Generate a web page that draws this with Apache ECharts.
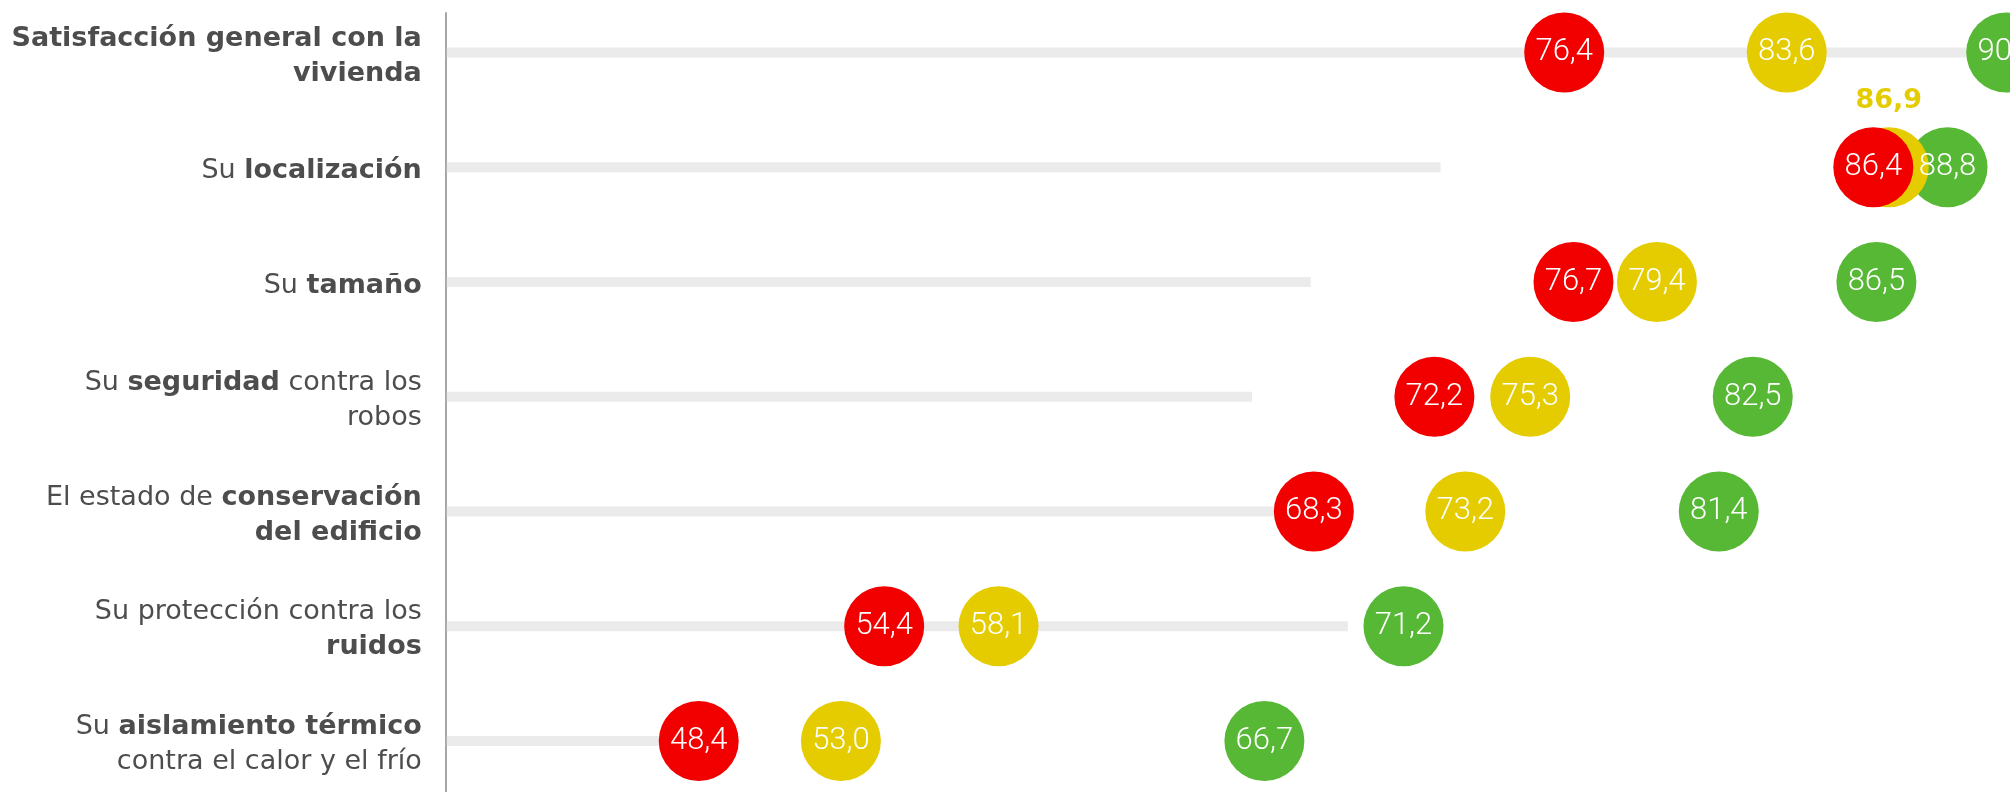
<!DOCTYPE html>
<html>
<head>
<meta charset="utf-8">
<script src="https://cdn.jsdelivr.net/npm/echarts@6/dist/echarts.min.js"></script>
<style>
html,body{margin:0;padding:0;background:#fff;}
#chart{width:2010px;height:792px;}
</style>
</head>
<body>
<div id="chart"></div>
<script>
// Categories (top to bottom); {b|...} marks the bold parts of each label
const categories = [
  "{b|Satisfacción general con la}\n{b|vivienda}",
  "Su {b|localización}",
  "Su {b|tamaño}",
  "Su {b|seguridad} contra los\nrobos",
  "El estado de {b|conservación}\n{b|del edificio}",
  "Su protección contra los\n{b|ruidos}",
  "Su {b|aislamiento térmico}\ncontra el calor y el frío"
];

// Series values
const redValues    = [76.4, 86.4, 76.7, 72.2, 68.3, 54.4, 48.4];
const yellowValues = [83.6, 86.9, 79.4, 75.3, 73.2, 58.1, 53.0];
const greenValues  = [90.7, 88.8, 86.5, 82.5, 81.4, 71.2, 66.7];

// Light grey background bars (end values)
const trackValues  = [100, 72.4, 68.2, 66.3, 68.3, 69.4, 48.4];

// Index of the yellow point whose label is shown above the circle (hidden by overlap)
const yellowLabelAbove = [1];

const RED = 'rgb(242,0,0)';
const YELLOW = 'rgb(229,204,0)';
const GREEN = 'rgb(86,184,52)';
const LABEL_FONT = 'DejaVu Sans';

const fmt = v => v.toFixed(1).replace('.', ',');

function pointData(values, aboveIdx) {
  return values.map((v, i) => {
    const item = { value: [v, i] };
    if (aboveIdx && aboveIdx.indexOf(i) >= 0) {
      item.label = {
        position: 'top', distance: 13, color: YELLOW,
        fontWeight: 'bold', fontSize: 27, fontFamily: LABEL_FONT
      };
    }
    return item;
  });
}

function scatterSeries(name, values, color, aboveIdx) {
  return {
    name: name,
    type: 'scatter',
    xAxisIndex: 0, yAxisIndex: 0,
    symbol: 'circle',
    symbolSize: 80,
    clip: false,
    itemStyle: { color: color, opacity: 1 },
    label: {
      show: true, position: 'inside', color: '#fff',
      fontSize: 31, fontFamily: 'Roboto', fontWeight: 300,
      formatter: p => fmt(p.value[0])
    },
    emphasis: { disabled: true },
    data: pointData(values, aboveIdx)
  };
}

const chart = echarts.init(document.getElementById('chart'), null, { renderer: 'canvas' });

const option = {
  animation: false,
  backgroundColor: '#fff',
  grid: [
    { left: 446.8, top: -4.875, width: 1846.9, height: 803.25, containLabel: false, outerBoundsMode: 'none' },
    { left: 446, top: 13, bottom: 0, width: 10, containLabel: false, outerBoundsMode: 'none' }
  ],
  xAxis: [
    { type: 'value', gridIndex: 0, min: 40.25, max: 100, show: false },
    { type: 'value', gridIndex: 1, min: 0, max: 1, show: false }
  ],
  yAxis: [
    {
      type: 'category', gridIndex: 0, inverse: true,
      data: categories,
      axisLine: { show: false },
      axisTick: { show: false },
      splitLine: { show: false },
      axisLabel: {
        margin: 25,
        align: 'right',
        padding: [7, 0, 0, 0],
        fontFamily: LABEL_FONT,
        fontSize: 27,
        lineHeight: 35,
        color: '#4d4d4d',
        rich: {
          b: { fontFamily: LABEL_FONT, fontSize: 27, lineHeight: 35, fontWeight: 'bold', color: '#4d4d4d' }
        }
      }
    },
    {
      type: 'value', gridIndex: 1, min: 0, max: 1,
      axisLine: { show: true, lineStyle: { color: '#a6a6a6', width: 2 } },
      axisTick: { show: false },
      axisLabel: { show: false },
      splitLine: { show: false }
    }
  ],
  series: [
    {
      name: 'Fondo',
      type: 'bar',
      xAxisIndex: 0, yAxisIndex: 0,
      barWidth: 10,
      itemStyle: { color: '#ebebeb' },
      emphasis: { disabled: true },
      data: trackValues
    },
    scatterSeries('Verde', greenValues, GREEN),
    scatterSeries('Amarillo', yellowValues, YELLOW, yellowLabelAbove),
    scatterSeries('Rojo', redValues, RED)
  ]
};

chart.setOption(option);
</script>
</body>
</html>
